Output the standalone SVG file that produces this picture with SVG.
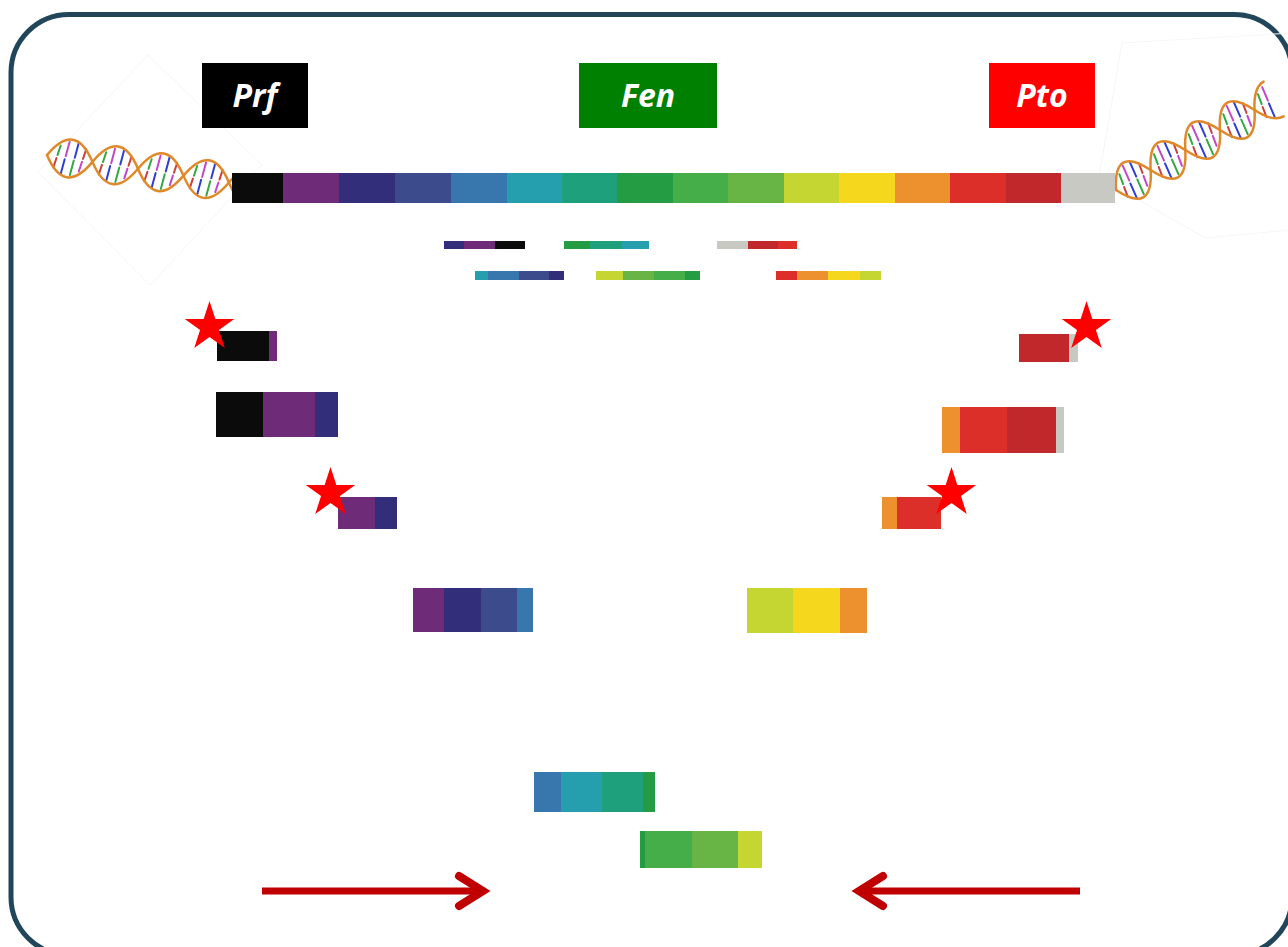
<svg xmlns="http://www.w3.org/2000/svg" width="1288" height="947" viewBox="0 0 1288 947">
  <defs>
    <style>
      .k{fill:#0b0b0b}.pu{fill:#6d2b78}.db{fill:#322e7a}.bl{fill:#3b4b8c}.sb{fill:#3777ae}.tl{fill:#259ead}
      .sg{fill:#1ea07c}.gr{fill:#239c44}.g2{fill:#46ae49}.g3{fill:#68b445}.yg{fill:#c5d532}.ye{fill:#f5d81d}
      .or{fill:#ec912e}.rd{fill:#dc2f2a}.dr{fill:#c0282b}.gy{fill:#c9c9c4}
      .lbl{font-family:"Open Sans","Liberation Sans",sans-serif;font-weight:700;font-style:italic;font-size:32px;fill:#ffffff;text-anchor:middle}
      .strand{fill:none;stroke:#e0892a;stroke-width:2.5;stroke-linecap:round}
      .rungs line{stroke-width:2;stroke-linecap:round}
      .arrow{fill:none;stroke:#c00000;stroke-width:7}
      .head{fill:none;stroke:#c00000;stroke-width:8;stroke-linejoin:miter;stroke-linecap:round}
      .star{fill:#ff0000}
      .faint{fill:none;stroke:#f6f6f6;stroke-width:1}
    </style>
    <polygon id="star" points="0,-26 5.84,-8.03 24.73,-8.03 9.44,3.07 15.28,21.03 0,9.93 -15.28,21.03 -9.44,3.07 -24.73,-8.03 -5.84,-8.03"/>
    <clipPath id="clipL"><rect x="0" y="0" width="232" height="320"/></clipPath>
    <!-- base-pair rungs for one turn of the small helix (46 px per eye) -->
    <g id="rungL" class="rungs">
      <line x1="12.1" y1="-11.5" x2="10.4" y2="-1.5" stroke="#35a844"/>
      <line x1="9.8" y1="1.5" x2="8.1" y2="11.5" stroke="#c8423f"/>
      <line x1="20.4" y1="-16.5" x2="18.7" y2="-1.5" stroke="#c149c8"/>
      <line x1="18.1" y1="1.5" x2="16.4" y2="16.5" stroke="#2f3fcf"/>
      <line x1="29.6" y1="-16.5" x2="27.9" y2="-1.5" stroke="#2f3fcf"/>
      <line x1="27.3" y1="1.5" x2="25.6" y2="16.5" stroke="#35a844"/>
      <line x1="37.9" y1="-11.5" x2="36.2" y2="-1.5" stroke="#c8423f"/>
      <line x1="35.6" y1="1.5" x2="33.9" y2="11.5" stroke="#c149c8"/>
    </g>
    <!-- base-pair rungs for one turn of the larger helix (40 px per eye) -->
    <g id="rungR" class="rungs">
      <line x1="10.8" y1="-12" x2="9.1" y2="-1.5" stroke="#35a844"/>
      <line x1="8.5" y1="1.5" x2="6.8" y2="12" stroke="#c8423f"/>
      <line x1="18" y1="-17.5" x2="16.3" y2="-1.5" stroke="#c149c8"/>
      <line x1="15.7" y1="1.5" x2="14" y2="17.5" stroke="#2f3fcf"/>
      <line x1="26" y1="-17.5" x2="24.3" y2="-1.5" stroke="#2f3fcf"/>
      <line x1="23.7" y1="1.5" x2="22" y2="17.5" stroke="#35a844"/>
      <line x1="33.2" y1="-12" x2="31.5" y2="-1.5" stroke="#c8423f"/>
      <line x1="30.9" y1="1.5" x2="29.2" y2="12" stroke="#c149c8"/>
    </g>
  </defs>

  <!-- frame -->
  <rect x="11" y="14.5" width="1281" height="940.5" rx="58" ry="58" fill="#ffffff" stroke="#214559" stroke-width="5"/>

  <!-- left DNA -->
  <g id="dna-left">
    <polygon class="faint" points="38,172 148,55 262,165 150,285"/>
    <g clip-path="url(#clipL)">
      <g transform="translate(47,155) rotate(8.6)">
        <use href="#rungL"/>
        <use href="#rungL" x="46"/>
        <use href="#rungL" x="92"/>
        <use href="#rungL" x="138"/>
        <use href="#rungL" x="184"/>
        <path class="strand" d="M0,0 q23,-38 46,0 t46,0 t46,0 t46,0 t46,0"/>
        <path class="strand" d="M0,0 q23,38 46,0 t46,0 t46,0 t46,0 t46,0"/>
      </g>
    </g>
  </g>

  <!-- right DNA -->
  <g id="dna-right">
    <polygon class="faint" points="1122,43 1292,33 1290,230 1205,238 1099,177"/>
    <g transform="translate(1116,190) rotate(-30)">
      <use href="#rungR"/>
      <use href="#rungR" x="40"/>
      <use href="#rungR" x="80"/>
      <use href="#rungR" x="120"/>
      <g class="rungs">
        <line x1="170.8" y1="-12" x2="169.1" y2="-1.5" stroke="#35a844"/>
        <line x1="168.5" y1="1.5" x2="166.8" y2="12" stroke="#c8423f"/>
        <line x1="178" y1="-16" x2="176.3" y2="-1.5" stroke="#c149c8"/>
        <line x1="175.7" y1="1.5" x2="174" y2="16" stroke="#2f3fcf"/>
      </g>
      <path class="strand" d="M0,0 q20,-40 40,0 t40,0 t40,0 t40,0 q10,-20 22,-20"/>
      <path class="strand" d="M0,0 q20,40 40,0 t40,0 t40,0 t40,0 q10,20 22,20"/>
    </g>
  </g>

  <!-- full spectrum strip -->
  <g id="main-bar">
    <rect class="k" x="232" y="173" width="51" height="30"/>
    <rect class="pu" x="283" y="173" width="56" height="30"/>
    <rect class="db" x="339" y="173" width="56" height="30"/>
    <rect class="bl" x="395" y="173" width="56" height="30"/>
    <rect class="sb" x="451" y="173" width="56" height="30"/>
    <rect class="tl" x="507" y="173" width="55" height="30"/>
    <rect class="sg" x="562" y="173" width="55" height="30"/>
    <rect class="gr" x="617" y="173" width="56" height="30"/>
    <rect class="g2" x="673" y="173" width="55" height="30"/>
    <rect class="g3" x="728" y="173" width="56" height="30"/>
    <rect class="yg" x="784" y="173" width="55" height="30"/>
    <rect class="ye" x="839" y="173" width="56" height="30"/>
    <rect class="or" x="895" y="173" width="55" height="30"/>
    <rect class="rd" x="950" y="173" width="56" height="30"/>
    <rect class="dr" x="1006" y="173" width="55" height="30"/>
    <rect class="gy" x="1061" y="173" width="54" height="30"/>
  </g>

  <!-- labels -->
  <g id="label-prf">
    <rect x="202" y="63" width="106" height="65" fill="#000000"/>
    <text class="lbl" x="255" y="107">Prf</text>
  </g>
  <g id="label-fen">
    <rect x="579" y="63" width="138" height="65" fill="#008000"/>
    <text class="lbl" x="648" y="107">Fen</text>
  </g>
  <g id="label-pto">
    <rect x="989" y="63" width="106" height="65" fill="#ff0000"/>
    <text class="lbl" x="1042" y="107">Pto</text>
  </g>

  <!-- short fragments, first row -->
  <g id="frag-1">
    <rect class="db" x="444" y="241" width="20" height="8"/>
    <rect class="pu" x="464" y="241" width="31" height="8"/>
    <rect class="k" x="495" y="241" width="30" height="8"/>
  </g>
  <g id="frag-2">
    <rect class="gr" x="564" y="241" width="26" height="8"/>
    <rect class="sg" x="590" y="241" width="32" height="8"/>
    <rect class="tl" x="622" y="241" width="27" height="8"/>
  </g>
  <g id="frag-3">
    <rect class="gy" x="717" y="241" width="31" height="8"/>
    <rect class="dr" x="748" y="241" width="30" height="8"/>
    <rect class="rd" x="778" y="241" width="19" height="8"/>
  </g>

  <!-- short fragments, second row -->
  <g id="frag-4">
    <rect class="tl" x="475" y="271" width="13" height="9"/>
    <rect class="sb" x="488" y="271" width="31" height="9"/>
    <rect class="bl" x="519" y="271" width="30" height="9"/>
    <rect class="db" x="549" y="271" width="15" height="9"/>
  </g>
  <g id="frag-5">
    <rect class="yg" x="596" y="271" width="27" height="9"/>
    <rect class="g3" x="623" y="271" width="31" height="9"/>
    <rect class="g2" x="654" y="271" width="31" height="9"/>
    <rect class="gr" x="685" y="271" width="15" height="9"/>
  </g>
  <g id="frag-6">
    <rect class="rd" x="776" y="271" width="21" height="9"/>
    <rect class="or" x="797" y="271" width="31" height="9"/>
    <rect class="ye" x="828" y="271" width="32" height="9"/>
    <rect class="yg" x="860" y="271" width="21" height="9"/>
  </g>

  <!-- left-end fragments -->
  <g id="frag-a">
    <rect class="k" x="217" y="331" width="52" height="30"/>
    <rect class="pu" x="269" y="331" width="8" height="30"/>
  </g>
  <g id="frag-b">
    <rect class="k" x="216" y="392" width="47" height="45"/>
    <rect class="pu" x="263" y="392" width="52" height="45"/>
    <rect class="db" x="315" y="392" width="23" height="45"/>
  </g>
  <g id="frag-c">
    <rect class="pu" x="338" y="497" width="37" height="32"/>
    <rect class="db" x="375" y="497" width="22" height="32"/>
  </g>

  <!-- right-end fragments -->
  <g id="frag-d">
    <rect class="dr" x="1019" y="334" width="50" height="28"/>
    <rect class="gy" x="1069" y="334" width="9" height="28"/>
  </g>
  <g id="frag-e">
    <rect class="or" x="942" y="407" width="18" height="46"/>
    <rect class="rd" x="960" y="407" width="47" height="46"/>
    <rect class="dr" x="1007" y="407" width="49" height="46"/>
    <rect class="gy" x="1056" y="407" width="8" height="46"/>
  </g>
  <g id="frag-f">
    <rect class="or" x="882" y="497" width="15" height="32"/>
    <rect class="rd" x="897" y="497" width="44" height="32"/>
  </g>

  <!-- inner fragments -->
  <g id="frag-g">
    <rect class="pu" x="413" y="588" width="31" height="44"/>
    <rect class="db" x="444" y="588" width="37" height="44"/>
    <rect class="bl" x="481" y="588" width="36" height="44"/>
    <rect class="sb" x="517" y="588" width="16" height="44"/>
  </g>
  <g id="frag-h">
    <rect class="yg" x="747" y="588" width="46" height="45"/>
    <rect class="ye" x="793" y="588" width="47" height="45"/>
    <rect class="or" x="840" y="588" width="27" height="45"/>
  </g>
  <g id="frag-i">
    <rect class="sb" x="534" y="772" width="27" height="40"/>
    <rect class="tl" x="561" y="772" width="41" height="40"/>
    <rect class="sg" x="602" y="772" width="41" height="40"/>
    <rect class="gr" x="643" y="772" width="12" height="40"/>
  </g>
  <g id="frag-j">
    <rect class="gr" x="640" y="831" width="5" height="37"/>
    <rect class="g2" x="645" y="831" width="47" height="37"/>
    <rect class="g3" x="692" y="831" width="46" height="37"/>
    <rect class="yg" x="738" y="831" width="24" height="37"/>
  </g>

  <!-- end markers -->
  <g id="stars">
    <use href="#star" class="star" x="209.5" y="327"/>
    <use href="#star" class="star" x="330.5" y="493"/>
    <use href="#star" class="star" x="1086.5" y="327"/>
    <use href="#star" class="star" x="951.5" y="493"/>
  </g>

  <!-- converging arrows -->
  <g id="connectors">
    <line class="arrow" x1="262" y1="891" x2="482" y2="891"/>
    <polyline class="head" points="459,876 483,891 459,906"/>
    <line class="arrow" x1="1080" y1="891" x2="860" y2="891"/>
    <polyline class="head" points="883,876 859,891 883,906"/>
  </g>
</svg>
